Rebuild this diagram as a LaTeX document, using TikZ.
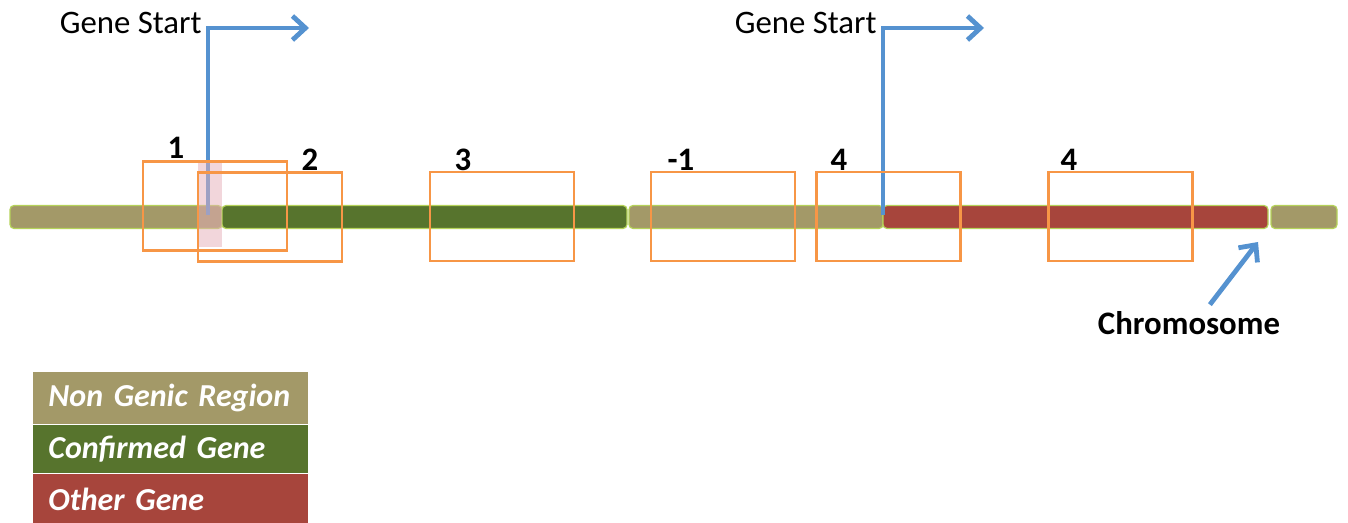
\documentclass[tikz,border=0pt]{standalone}
\usepackage{fontspec}
\setmainfont{Carlito}
\usetikzlibrary{arrows.meta,positioning}

\definecolor{nongenic}{HTML}{A39968}
\definecolor{confirmed}{HTML}{57742D}
\definecolor{othergene}{HTML}{A7453C}
\definecolor{barline}{HTML}{B5D35A}
\definecolor{winorange}{HTML}{F79646}
\definecolor{startblue}{HTML}{5592D0}
\definecolor{tsspink}{HTML}{E6AEB8}

\DeclareRobustCommand\legendfont{\fontsize{16}{19}\selectfont\bfseries\itshape}

\tikzset{
  segment/.style={draw=barline, line width=0.6pt, rounded corners=2pt},
  window/.style={draw=winorange, line width=1.4pt, minimum width=72pt, minimum height=44.5pt, inner sep=0pt},
  pointer/.style={draw=startblue, line width=2.4pt, -{Straight Barb[length=6.5pt,width=12pt]}},
  num/.style={inner sep=0pt, font=\fontsize{16.4}{19}\selectfont\bfseries},
  caption/.style={inner sep=0pt, font=\fontsize{16.4}{19}\selectfont},
  legend/.style={text=white, align=left, text width=122.5pt, inner xsep=7.5pt,
    minimum width=137.5pt, font=\legendfont}
}

\begin{document}
\begin{tikzpicture}[x=0.5pt,y=-0.5pt]
\useasboundingbox (0,0) rectangle (1348,523);

% the chromosome
\filldraw[segment, fill=nongenic] (10,205.5) rectangle (222,228.5);
\filldraw[segment, fill=confirmed] (222,205.5) rectangle (627,228.5);
\filldraw[segment, fill=nongenic] (629,205.5) rectangle (883,228.5);
\filldraw[segment, fill=othergene] (883,205.5) rectangle (1268,228.5);
\filldraw[segment, fill=nongenic] (1271,205.5) rectangle (1337,228.5);

% gene starts
\coordinate (gs1) at (208,215);
\coordinate (gs1end) at (309,28);
\coordinate (gs2) at (883,215);
\coordinate (gs2end) at (984,28);
\node[caption, anchor=base east] (gstext1) at (202,34) {Gene Start};
\node[caption, anchor=base east] (gstext2) at (877,34) {Gene Start};
\draw[pointer] (gs1) |- (gs1end);
\draw[pointer] (gs2) |- (gs2end);

\fill[tsspink, opacity=0.5] (198,163) rectangle (222,247);

% windows
\foreach \cx/\cy/\nm in {215/206/w1, 270/217/w2, 502/216.5/w3, 723/216.5/w4,
                         888.5/216.5/w5, 1120.5/216.5/w6} {
  \node[window] (\nm) at (\cx,\cy) {};
}
\foreach \lx/\ly/\txt in {176/148/1, 310/160/2, 463/160/3, 681/160/-1,
                          839/160/4, 1069/160/4} {
  \node[num] (lab\lx) at (\lx,\ly) {\txt};
}

% chromosome label
\node[num] (chrom) at (1189,323) {Chromosome};
\coordinate (chromtip) at (1258,242);
\draw[pointer, shorten <=4pt] ([xshift=8pt]chrom.north) -- (chromtip);

% legend
\node[legend, fill=nongenic, minimum height=26pt, anchor=north west] (lgnon) at (33,372) {Non Genic Region};
\node[legend, fill=confirmed, minimum height=24pt, below=0pt of lgnon] (lgconf) {Confirmed Gene};
\node[legend, fill=othergene, minimum height=25.5pt, below=0pt of lgconf] (lgother) {Other Gene};
\end{tikzpicture}
\end{document}
